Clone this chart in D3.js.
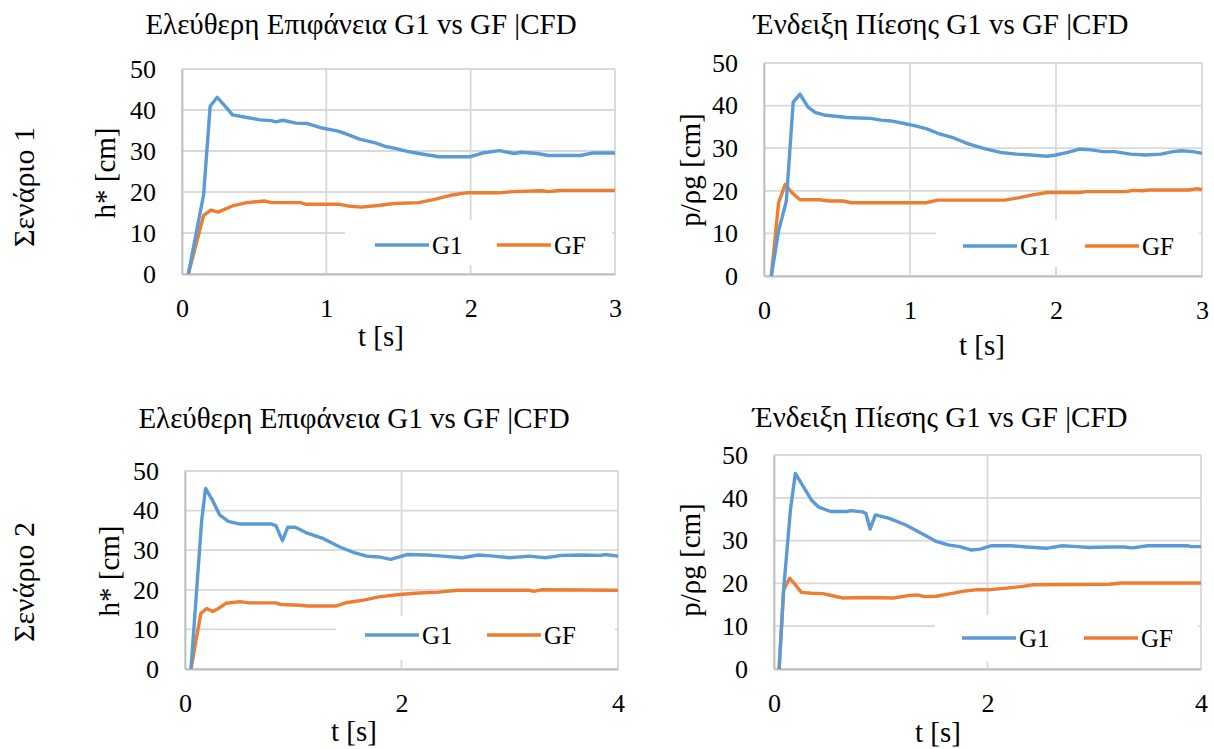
<!DOCTYPE html>
<html>
<head>
<meta charset="utf-8">
<script src="https://cdn.jsdelivr.net/npm/d3@7"></script>
<style>
  html, body { margin: 0; padding: 0; background: #fff; }
  svg { display: block; }
  text { font-family: "Liberation Serif", "Times New Roman", serif; fill: #000; }
</style>
</head>
<body>
<svg id="chart" width="1214" height="749"></svg>
<script>
// ---------------- DATA ----------------
const seriesNames = ["G1", "GF"];
const yTicks = [0, 10, 20, 30, 40, 50];
const xTicksScenario1 = [0, 1, 2, 3];
const xTicksScenario2 = [0, 2, 4];
const titleSurface = "Ελεύθερη Επιφάνεια G1 vs GF |CFD";
const titlePressure = "Ένδειξη Πίεσης G1 vs GF |CFD";
const yLabelSurface = "h* [cm]";
const yLabelPressure = "p/ρg [cm]";
const xLabel = "t [s]";
const scenarioLabels = ["Σενάριο 1", "Σενάριο 2"];

// Scenario 1 – free surface  [t, value]
const s1SurfaceG1 = [[0.044,0],[0.15,19.4],[0.195,40.9],[0.244,43.1],[0.30,40.9],[0.35,38.8],[0.43,38.3],[0.54,37.6],[0.62,37.4],[0.65,37.1],[0.70,37.5],[0.79,36.8],[0.87,36.7],[0.97,35.6],[1.09,34.8],[1.15,34.0],[1.23,32.9],[1.34,32.0],[1.41,31.1],[1.47,30.7],[1.56,29.9],[1.64,29.4],[1.78,28.6],[2.0,28.6],[2.08,29.5],[2.2,30.1],[2.30,29.4],[2.35,29.7],[2.46,29.4],[2.54,28.9],[2.76,28.9],[2.84,29.5],[3.0,29.5]];
const s1SurfaceGF = [[0.044,0],[0.15,14.3],[0.2,15.6],[0.25,15.1],[0.35,16.6],[0.45,17.4],[0.57,17.8],[0.62,17.4],[0.82,17.4],[0.86,17.0],[1.09,17.0],[1.15,16.6],[1.24,16.3],[1.36,16.7],[1.47,17.2],[1.64,17.4],[1.75,18.2],[1.86,19.2],[1.97,19.8],[2.19,19.8],[2.30,20.1],[2.49,20.3],[2.54,20.1],[2.62,20.4],[3.0,20.4]];
// Scenario 1 – pressure
const s1PressureG1 = [[0.05,0],[0.10,10.6],[0.153,17.6],[0.20,40.8],[0.247,42.7],[0.30,39.7],[0.35,38.4],[0.41,37.8],[0.49,37.5],[0.57,37.2],[0.65,37.1],[0.73,37.0],[0.80,36.6],[0.87,36.4],[0.96,35.8],[1.03,35.3],[1.11,34.6],[1.19,33.5],[1.30,32.4],[1.40,31.0],[1.51,29.9],[1.62,29.0],[1.73,28.6],[1.83,28.4],[1.94,28.1],[2.0,28.4],[2.08,29.0],[2.16,29.8],[2.24,29.6],[2.32,29.2],[2.40,29.2],[2.51,28.6],[2.61,28.4],[2.72,28.6],[2.80,29.2],[2.86,29.4],[2.94,29.2],[3.0,28.8]];
const s1PressureGF = [[0.05,0],[0.10,17.2],[0.145,21.5],[0.19,19.6],[0.247,17.9],[0.38,17.9],[0.45,17.6],[0.54,17.6],[0.60,17.2],[1.11,17.2],[1.19,17.8],[1.65,17.8],[1.75,18.4],[1.83,19.0],[1.94,19.6],[2.16,19.6],[2.21,19.8],[2.48,19.8],[2.53,20.1],[2.59,20.0],[2.64,20.2],[2.91,20.2],[2.97,20.5],[3.0,20.2]];
// Scenario 2 – free surface
const s2SurfaceG1 = [[0.055,0],[0.154,37.5],[0.19,45.6],[0.256,42.5],[0.32,38.9],[0.40,37.3],[0.51,36.6],[0.80,36.6],[0.84,36.2],[0.90,32.4],[0.95,35.8],[1.02,35.8],[1.13,34.3],[1.28,32.9],[1.43,30.8],[1.57,29.3],[1.68,28.5],[1.79,28.3],[1.90,27.7],[2.05,28.9],[2.23,28.8],[2.38,28.5],[2.56,28.1],[2.71,28.8],[2.85,28.5],[3.0,28.1],[3.18,28.5],[3.33,28.1],[3.48,28.7],[3.66,28.8],[3.84,28.7],[3.88,28.9],[4.0,28.5]];
const s2SurfaceGF = [[0.055,0],[0.146,14.0],[0.20,15.3],[0.256,14.5],[0.31,15.3],[0.38,16.6],[0.51,17.0],[0.59,16.7],[0.84,16.7],[0.88,16.3],[1.06,16.1],[1.13,15.9],[1.39,15.9],[1.50,16.8],[1.65,17.4],[1.79,18.2],[1.98,18.8],[2.16,19.2],[2.34,19.4],[2.52,19.9],[3.18,19.9],[3.22,19.6],[3.29,20.0],[4.0,19.9]];
// Scenario 2 – pressure
const s2PressureG1 = [[0.048,0],[0.09,18.5],[0.154,37.2],[0.20,45.7],[0.275,42.6],[0.35,39.5],[0.42,37.8],[0.53,36.8],[0.68,36.8],[0.72,37.0],[0.83,36.7],[0.86,36.4],[0.90,32.7],[0.95,36.0],[1.08,35.2],[1.23,33.7],[1.38,31.7],[1.52,29.8],[1.63,29.0],[1.74,28.6],[1.85,27.8],[1.93,28.0],[2.04,28.8],[2.22,28.8],[2.37,28.5],[2.55,28.2],[2.70,28.8],[2.84,28.6],[2.95,28.4],[3.14,28.5],[3.28,28.5],[3.36,28.3],[3.50,28.8],[3.69,28.8],[3.87,28.8],[3.91,28.6],[4.0,28.6]];
const s2PressureGF = [[0.048,0],[0.09,18.5],[0.147,21.2],[0.20,19.7],[0.257,17.9],[0.35,17.7],[0.46,17.6],[0.57,17.0],[0.64,16.6],[0.86,16.7],[1.12,16.6],[1.27,17.2],[1.34,17.3],[1.41,16.9],[1.52,17.0],[1.63,17.5],[1.78,18.2],[1.89,18.5],[2.0,18.5],[2.18,18.9],[2.33,19.3],[2.44,19.7],[3.14,19.8],[3.25,20.1],[4.0,20.1]];

// ---------------- LAYOUT ----------------
const colors = { G1: "#5B9BD5", GF: "#ED7D31" };
const gridColor = "#d9d9d9";
const FS_TITLE = 29, FS_AXIS = 29, FS_TICK = 26, FS_LEGEND = 25, FS_SCEN = 30;

const panels = [
  { l:182, r:615, t:69,  b:274, xMax:3, xTicks:xTicksScenario1, title:titleSurface,  tx:361, ty:34,
    yLab:yLabelSurface,  ylx:105, yly:173, xlx:381, xly:346, lgx:375, lgy:245, box:[345,612,220,265],
    g1:s1SurfaceG1, gf:s1SurfaceGF },
  { l:764, r:1202, t:63, b:276, xMax:3, xTicks:xTicksScenario1, title:titlePressure, tx:941, ty:34,
    yLab:yLabelPressure, ylx:690, yly:170, xlx:982, xly:355, lgx:963, lgy:246, box:[936,1199,220,267],
    g1:s1PressureG1, gf:s1PressureGF },
  { l:185, r:618, t:471, b:669, xMax:4, xTicks:xTicksScenario2, title:titleSurface,  tx:354, ty:428,
    yLab:yLabelSurface,  ylx:109, yly:571, xlx:354, xly:741, lgx:365, lgy:635, box:[336,615,616,660],
    g1:s2SurfaceG1, gf:s2SurfaceGF },
  { l:774, r:1201, t:455, b:669, xMax:4, xTicks:xTicksScenario2, title:titlePressure, tx:940, ty:427,
    yLab:yLabelPressure, ylx:690, yly:560, xlx:938, xly:742, lgx:962, lgy:638, box:[935,1198,615,662],
    g1:s2PressureG1, gf:s2PressureGF }
];

const svg = d3.select("#chart");

panels.forEach(p => {
  const x = d3.scaleLinear().domain([0, p.xMax]).range([p.l, p.r]);
  const y = d3.scaleLinear().domain([0, 50]).range([p.b, p.t]);
  const g = svg.append("g");

  // horizontal gridlines
  g.append("g").selectAll("line").data(yTicks).join("line")
    .attr("x1", p.l).attr("x2", p.r)
    .attr("y1", d => y(d)).attr("y2", d => y(d))
    .attr("stroke", gridColor).attr("stroke-width", 1.8);
  // vertical gridlines
  g.append("g").selectAll("line").data(p.xTicks).join("line")
    .attr("x1", d => x(d)).attr("x2", d => x(d))
    .attr("y1", p.t).attr("y2", p.b)
    .attr("stroke", gridColor).attr("stroke-width", 1.8);

  // axes
  const yAxis = d3.axisLeft(y).tickValues(yTicks).tickSize(0).tickPadding(26).tickFormat(d3.format("d"));
  const ya = g.append("g").attr("transform", `translate(${p.l},0)`).call(yAxis);
  ya.attr("font-family", null).attr("font-size", null);
  ya.select(".domain").attr("stroke", "#bfbfbf").attr("stroke-width", 1.8);
  ya.selectAll("text").attr("font-family", "Liberation Serif").attr("font-size", FS_TICK).attr("fill", "#000");

  const xAxis = d3.axisBottom(x).tickValues(p.xTicks).tickSize(0).tickPadding(25).tickFormat(d3.format("d"));
  const xa = g.append("g").attr("transform", `translate(0,${p.b})`).call(xAxis);
  xa.attr("font-family", null).attr("font-size", null);
  xa.select(".domain").attr("stroke", "#bfbfbf").attr("stroke-width", 1.8);
  xa.selectAll("text").attr("font-family", "Liberation Serif").attr("font-size", FS_TICK).attr("fill", "#000");

  // data lines
  const line = d3.line().x(d => x(d[0])).y(d => y(d[1]));
  g.append("path").datum(p.gf).attr("d", line)
    .attr("fill", "none").attr("stroke", colors.GF).attr("stroke-width", 3.4)
    .attr("stroke-linejoin", "round");
  g.append("path").datum(p.g1).attr("d", line)
    .attr("fill", "none").attr("stroke", colors.G1).attr("stroke-width", 3.4)
    .attr("stroke-linejoin", "round");

  // legend
  g.append("rect").attr("x", p.box[0]).attr("y", p.box[2])
    .attr("width", p.box[1] - p.box[0]).attr("height", p.box[3] - p.box[2]).attr("fill", "#fff");
  seriesNames.forEach((name, i) => {
    const lx = p.lgx + i * 122;
    g.append("line").attr("x1", lx).attr("x2", lx + 54).attr("y1", p.lgy).attr("y2", p.lgy)
      .attr("stroke", colors[name]).attr("stroke-width", 3.6);
    g.append("text").attr("x", lx + 57).attr("y", p.lgy).attr("dominant-baseline", "central")
      .attr("font-size", FS_LEGEND).text(name);
  });

  // title
  g.append("text").attr("x", p.tx).attr("y", p.ty).attr("text-anchor", "middle")
    .attr("font-size", FS_TITLE).text(p.title);
  // axis titles
  g.append("text").attr("x", p.xlx).attr("y", p.xly).attr("text-anchor", "middle")
    .attr("font-size", FS_AXIS).text(xLabel);
  g.append("text").attr("transform", `translate(${p.ylx},${p.yly}) rotate(-90)`)
    .attr("text-anchor", "middle").attr("dominant-baseline", "central")
    .attr("font-size", FS_AXIS).text(p.yLab);
});

// scenario labels
[[23, 187], [23, 582]].forEach((pos, i) => {
  svg.append("text").attr("transform", `translate(${pos[0]},${pos[1]}) rotate(-90)`)
    .attr("text-anchor", "middle").attr("dominant-baseline", "central")
    .attr("font-size", FS_SCEN).text(scenarioLabels[i]);
});
</script>
</body>
</html>
